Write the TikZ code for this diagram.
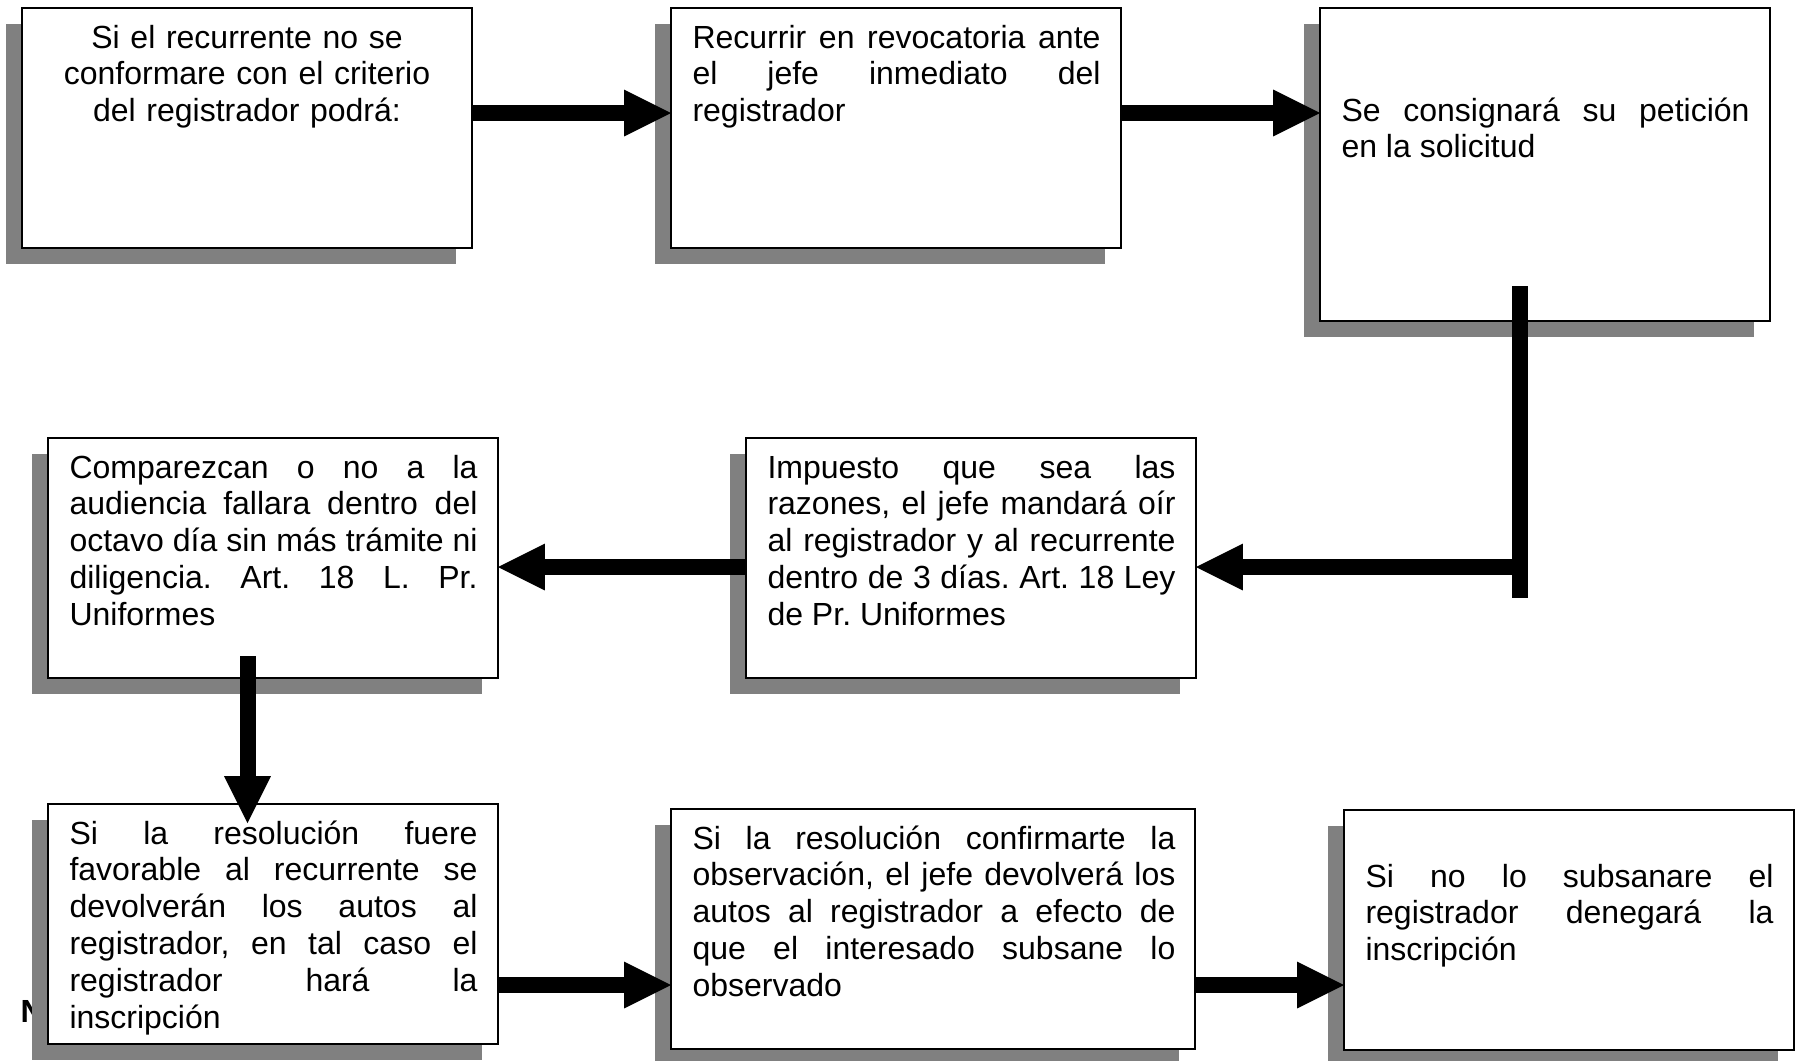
\documentclass[tikz,border=0pt]{standalone}
\usepackage{fontspec}
\setmainfont{Liberation Sans}
\usetikzlibrary{arrows.meta,shadows,calc}
\definecolor{shadowgray}{RGB}{128,128,128}
\frenchspacing
\hyphenpenalty=10000
\exhyphenpenalty=10000
\tolerance=10000
\hbadness=10000
\begin{document}
\begin{tikzpicture}[x=0.375pt,y=-0.375pt,
  box/.style={draw=black, line width=0.5pt, fill=white, anchor=north west,
    inner sep=0pt, outer sep=0pt, minimum width=168.75pt, minimum height=90pt,
    drop shadow={shadow xshift=-6pt, shadow yshift=-6pt, fill=shadowgray, opacity=1}},
  txt/.style={anchor=base west, inner sep=0pt, text width=153pt, align=justify,
    font=\fontsize{12}{13.8}\selectfont},
  conn/.style={line width=6pt, draw=black},
  tip/.style={-{Triangle[length=17.6pt, width=17.6pt, line width=0pt]}}
]
% page
\fill[white] (0,0) rectangle (1797,1061);
\useasboundingbox (0,0) rectangle (1797,1061);

% partly hidden heading letter
\node[anchor=base west, inner sep=0pt, font=\fontsize{12}{13.8}\selectfont\bfseries] (nota) at (20,1022) {N};

% boxes
\node[box] (b1) at (22,8) {};
\node[box] (b2) at (671,8) {};
\node[box, minimum height=117.375pt] (b3) at (1320,8) {};
\node[box] (b4) at (48,438) {};
\node[box] (b5) at (746,438) {};
\node[box] (b6) at (48,804) {};
\node[box, minimum width=196.5pt] (b7) at (671,809) {};
\node[box] (b8) at (1344,810) {};

% texts
\node[txt, anchor=base, align=center] (t1) at ($(b1.north)+(0,40)$)
  {Si el recurrente no se\\conformare con el criterio\\del registrador podrá:};
\node[txt] (t2) at ($(b2.north west)+(21,40)$)
  {Recurrir en revocatoria ante\linebreak el jefe inmediato del\linebreak registrador};
\node[txt] (t3) at ($(b3.north west)+(21,113)$)
  {Se consignará su petición\linebreak en la solicitud};
\node[txt] (t4) at ($(b4.north west)+(21,40)$)
  {Comparezcan o no a la\linebreak audiencia fallara dentro del\linebreak octavo día sin más trámite ni\linebreak diligencia. Art. 18 L. Pr.\linebreak Uniformes};
\node[txt] (t5) at ($(b5.north west)+(21,40)$)
  {Impuesto que sea las\linebreak razones, el jefe mandará oír\linebreak al registrador y al recurrente\linebreak dentro de 3 días. Art. 18 Ley\linebreak de Pr. Uniformes};
\node[txt] (t6) at ($(b6.north west)+(21,40)$)
  {Si la resolución fuere\linebreak favorable al recurrente se\linebreak devolverán los autos al\linebreak registrador, en tal caso el\linebreak registrador hará la\linebreak inscripción};
\node[txt, text width=181.1pt] (t7) at ($(b7.north west)+(21,40)$)
  {Si la resolución confirmarte la\linebreak observación, el jefe devolverá los\linebreak autos al registrador a efecto de\linebreak que el interesado subsane lo\linebreak observado};
\node[txt] (t8) at ($(b8.north west)+(21,77)$)
  {Si no lo subsanare el\linebreak registrador denegará la\linebreak inscripción};

% connectors
\draw[conn, tip] ($(b1.north east)+(0,105)$) -- ($(b2.north west)+(0,105)$);
\draw[conn, tip] ($(b2.north east)+(0,105)$) -- ($(b3.north west)+(0,105)$);
\coordinate (c3top) at ($(b3.south west)+(200,-35)$);
\coordinate (c3bot) at ($(b3.south west)+(200,277)$);
\coordinate (c3mid) at ($(b3.south west)+(200,246)$);
\draw[conn] (c3top) -- (c3bot);
\draw[conn, tip] (c3mid) -- (b5.east |- c3mid);
\coordinate (c5out) at ($(b5.north west)+(0,129)$);
\draw[conn, tip] (c5out) -- (b4.east |- c5out);
\draw[conn, tip] ($(b4.south west)+(199.5,-22)$) -- ($(b6.north west)+(199.5,19)$);
\coordinate (c6out) at ($(b6.north east)+(0,181)$);
\draw[conn, tip] (c6out) -- (b7.west |- c6out);
\coordinate (c7out) at ($(b7.north east)+(0,176)$);
\draw[conn, tip] (c7out) -- (b8.west |- c7out);
\end{tikzpicture}
\end{document}
